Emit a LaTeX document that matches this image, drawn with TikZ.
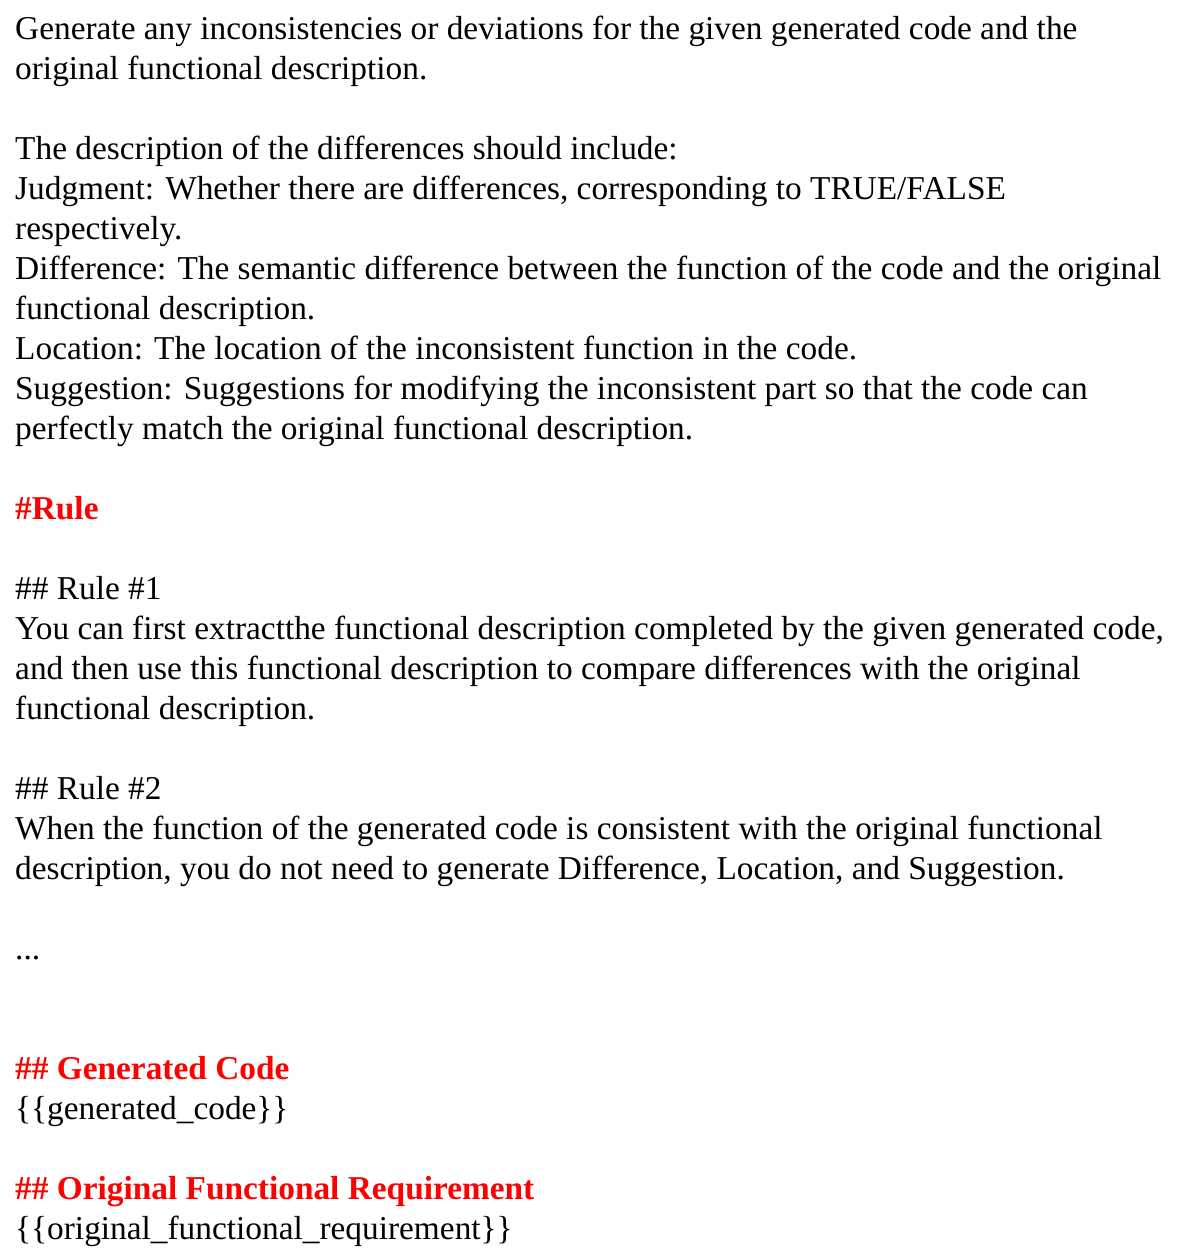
\documentclass[tikz,border=0pt]{standalone}
\usepackage{fontspec}
\setmainfont{Liberation Serif}
\definecolor{rulered}{RGB}{255,0,0}
\tikzset{
  txt/.style={anchor=base west, inner sep=0pt, font=\fontsize{33.35pt}{40pt}\selectfont, text=black},
  hdr/.style={txt, text=rulered, font=\fontsize{33.35pt}{40pt}\selectfont\bfseries}
}
\begin{document}
\begin{tikzpicture}[x=1pt,y=1pt]
\useasboundingbox (0,0) rectangle (1180,-1248);
\def\lx{15}
\node[txt] (l0) at (\lx,-39) {Generate any inconsistencies or deviations for the given generated code and the};
\node[txt] (l1) at (\lx,-79) {original functional description.};
\node[txt] (l3) at (\lx,-159) {The description of the differences should include:};
\node[txt] (l4) at (\lx,-199) {Judgment: Whether there are differences, corresponding to TRUE/FALSE};
\node[txt] (l5) at (\lx,-239) {respectively.};
\node[txt] (l6) at (\lx,-279) {Difference: The semantic difference between the function of the code and the original};
\node[txt] (l7) at (\lx,-319) {functional description.};
\node[txt] (l8) at (\lx,-359) {Location: The location of the inconsistent function in the code.};
\node[txt] (l9) at (\lx,-399) {Suggestion: Suggestions for modifying the inconsistent part so that the code can};
\node[txt] (l10) at (\lx,-439) {perfectly match the original functional description.};
\node[hdr] (l12) at (\lx,-519) {\#Rule};
\node[txt] (l14) at (\lx,-599) {\#\# Rule \#1};
\node[txt] (l15) at (\lx,-639) {You can first extractthe functional description completed by the given generated code,};
\node[txt] (l16) at (\lx,-679) {and then use this functional description to compare differences with the original};
\node[txt] (l17) at (\lx,-719) {functional description.};
\node[txt] (l19) at (\lx,-799) {\#\# Rule \#2};
\node[txt] (l20) at (\lx,-839) {When the function of the generated code is consistent with the original functional};
\node[txt] (l21) at (\lx,-879) {description, you do not need to generate Difference, Location, and Suggestion.};
\node[txt] (l23) at (\lx,-959) {...};
\node[hdr] (l26) at (\lx,-1079) {\#\# Generated Code};
\node[txt] (l27) at (\lx,-1119) {\{\{generated\_code\}\}};
\node[hdr] (l29) at (\lx,-1199) {\#\# Original Functional Requirement};
\node[txt] (l30) at (\lx,-1239) {\{\{original\_functional\_requirement\}\}};
\end{tikzpicture}
\end{document}
